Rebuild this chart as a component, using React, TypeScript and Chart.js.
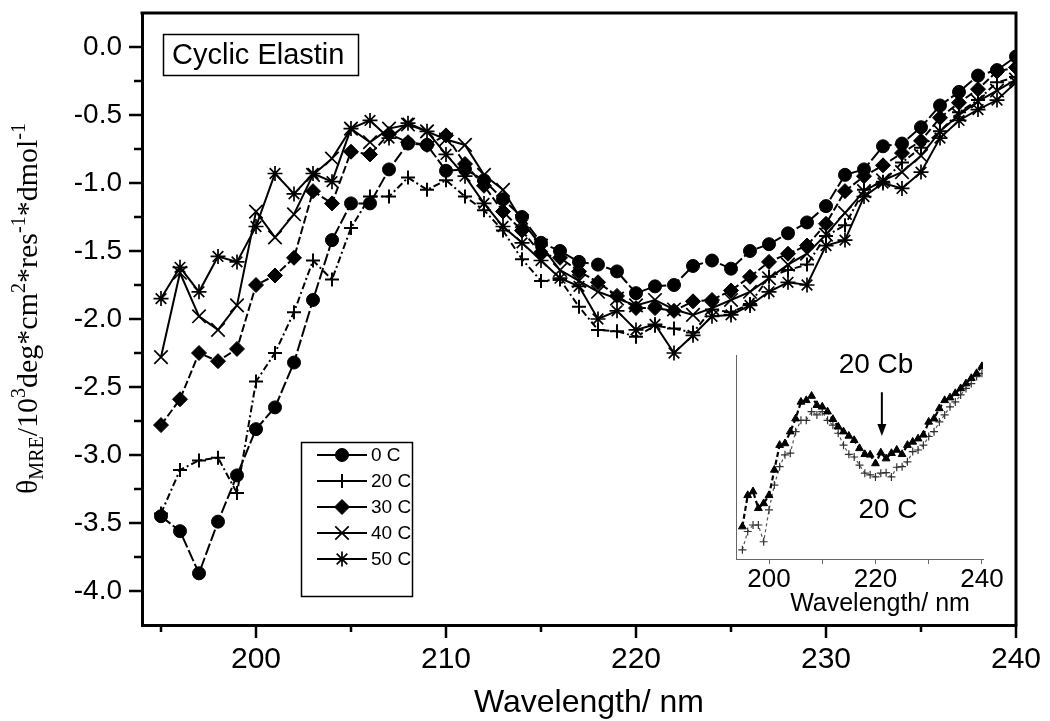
import React, { useEffect, useRef } from 'react';
import { Chart, registerables } from 'chart.js';
import { drawPoint } from 'chart.js/helpers';

Chart.register(...registerables);

// ---------- data ----------
const WAVELENGTH = [195, 196, 197, 198, 199, 200, 201, 202, 203, 204, 205, 206, 207, 208, 209, 210, 211, 212, 213, 214, 215, 216, 217, 218, 219, 220, 221, 222, 223, 224, 225, 226, 227, 228, 229, 230, 231, 232, 233, 234, 235, 236, 237, 238, 239, 240];

const CD_0C = [-3.45, -3.56, -3.87, -3.49, -3.15, -2.81, -2.65, -2.32, -1.86, -1.42, -1.15, -1.15, -0.90, -0.71, -0.72, -0.91, -0.90, -0.98, -1.12, -1.25, -1.44, -1.50, -1.58, -1.60, -1.65, -1.81, -1.76, -1.75, -1.61, -1.57, -1.63, -1.50, -1.45, -1.37, -1.29, -1.17, -0.94, -0.90, -0.73, -0.71, -0.59, -0.43, -0.33, -0.21, -0.17, -0.07];
const CD_20C = [-3.43, -3.11, -3.04, -3.02, -3.28, -2.46, -2.25, -1.95, -1.57, -1.71, -1.33, -1.10, -1.10, -0.96, -1.05, -0.98, -1.10, -1.20, -1.35, -1.56, -1.72, -1.71, -1.91, -2.08, -2.09, -2.13, -2.05, -2.07, -2.10, -1.93, -1.95, -1.89, -1.69, -1.64, -1.60, -1.39, -1.31, -1.05, -0.99, -0.85, -0.74, -0.62, -0.48, -0.39, -0.26, -0.22];
const CD_30C = [-2.78, -2.59, -2.25, -2.31, -2.22, -1.75, -1.68, -1.55, -1.06, -1.15, -0.77, -0.79, -0.64, -0.70, -0.72, -0.65, -0.86, -1.02, -1.21, -1.35, -1.52, -1.55, -1.65, -1.73, -1.83, -1.92, -1.92, -1.94, -1.87, -1.86, -1.79, -1.69, -1.58, -1.52, -1.46, -1.30, -1.06, -0.95, -0.87, -0.78, -0.69, -0.52, -0.41, -0.31, -0.18, -0.15];
const CD_40C = [-2.28, -1.66, -1.98, -2.08, -1.90, -1.21, -1.40, -1.23, -0.94, -0.82, -0.60, -0.70, -0.60, -0.57, -0.62, -0.68, -0.72, -0.94, -1.05, -1.28, -1.46, -1.64, -1.72, -1.80, -1.85, -1.90, -1.86, -1.93, -1.97, -1.92, -1.86, -1.80, -1.70, -1.60, -1.52, -1.38, -1.22, -1.06, -0.98, -0.92, -0.80, -0.62, -0.50, -0.40, -0.32, -0.24];
const CD_50C = [-1.85, -1.62, -1.80, -1.54, -1.58, -1.32, -0.93, -1.08, -0.93, -0.99, -0.60, -0.54, -0.67, -0.56, -0.62, -0.79, -0.95, -1.15, -1.32, -1.44, -1.57, -1.70, -1.76, -2.00, -1.94, -2.08, -2.04, -2.25, -2.12, -1.98, -1.97, -1.90, -1.80, -1.73, -1.75, -1.46, -1.42, -1.10, -1.00, -1.04, -0.92, -0.67, -0.54, -0.46, -0.39, -0.26];

const SERIES_LABELS = ['0 C', '20 C', '30 C', '40 C', '50 C'];

const INSET_20CB = [-3.04, -2.46, -2.39, -2.70, -2.61, -2.46, -1.99, -1.53, -1.50, -1.28, -1.04, -0.73, -0.70, -0.62, -0.79, -0.82, -0.91, -1.05, -1.19, -1.28, -1.36, -1.44, -1.59, -1.70, -1.71, -1.87, -1.67, -1.78, -1.68, -1.62, -1.70, -1.53, -1.47, -1.41, -1.34, -1.10, -1.04, -0.85, -0.70, -0.65, -0.57, -0.48, -0.39, -0.29, -0.20, -0.07];
const INSET_20C = [-3.47, -3.13, -3.01, -3.01, -3.32, -2.73, -2.27, -1.93, -1.71, -1.68, -1.28, -1.07, -1.07, -0.91, -0.97, -0.91, -1.07, -1.16, -1.31, -1.53, -1.70, -1.75, -1.90, -2.05, -2.08, -2.12, -2.05, -2.04, -2.12, -1.94, -1.93, -1.84, -1.65, -1.62, -1.53, -1.37, -1.28, -1.10, -0.97, -0.82, -0.73, -0.60, -0.48, -0.39, -0.26, -0.20];

const X_TICKS = [200, 210, 220, 230, 240];
const X_MINOR = [195, 205, 215, 225, 235];
const Y_TICKS = [0, -0.5, -1.0, -1.5, -2.0, -2.5, -3.0, -3.5, -4.0];
const Y_MINOR = [-0.25, -0.75, -1.25, -1.75, -2.25, -2.75, -3.25, -3.75];
const INSET_X_TICKS = [200, 210, 220, 230, 240];
const INSET_X_LABELS = [200, 220, 240];

const TITLE_TEXT = 'Cyclic Elastin';
const X_TITLE = 'Wavelength/ nm';
const Y_TITLE_PARTS = [
  { t: 'θ', sub: 0 },
  { t: 'MRE', sub: 1 },
  { t: '/10', sub: 0 },
  { t: '3', sub: -1 },
  { t: 'deg*cm', sub: 0 },
  { t: '2', sub: -1 },
  { t: '*res', sub: 0 },
  { t: '-1', sub: -1 },
  { t: '*dmol', sub: 0 },
  { t: '-1', sub: -1 },
];

// ---------- styles ----------
const SANS = '"Liberation Sans", Arial, sans-serif';
const SERIF = '"Liberation Serif", "Times New Roman", serif';

const STYLES = [
  { pointStyle: 'circle', radius: 6.5, borderWidth: 1, dash: [12, 3] },
  { pointStyle: 'cross', radius: 7, borderWidth: 2, dash: [7, 3, 2, 3] },
  { pointStyle: 'rectRot', radius: 7.5, borderWidth: 1, dash: [8, 3] },
  { pointStyle: 'crossRot', radius: 9.5, borderWidth: 1.7, dash: [] },
  { pointStyle: 'star', radius: 7.5, borderWidth: 1.7, dash: [] },
];

const zeroPad = (s: any) => {
  s.paddingTop = 0;
  s.paddingBottom = 0;
  s.paddingLeft = 0;
  s.paddingRight = 0;
};

const mainDecor = {
  id: 'mainDecor',
  afterDraw(chart: any) {
    const { ctx, chartArea: a, scales } = chart;
    const xs = scales.x;
    const ys = scales.y;
    ctx.save();
    ctx.strokeStyle = '#000';
    ctx.fillStyle = '#000';
    ctx.setLineDash([]);
    // top and right frame
    ctx.lineWidth = 3;
    ctx.beginPath();
    ctx.moveTo(a.left - 1.5, a.top);
    ctx.lineTo(a.right, a.top);
    ctx.lineTo(a.right, a.bottom + 1.5);
    ctx.stroke();
    // ticks
    ctx.lineWidth = 2.5;
    ctx.beginPath();
    Y_TICKS.forEach((v) => {
      const y = ys.getPixelForValue(v);
      ctx.moveTo(a.left, y);
      ctx.lineTo(a.left - 13, y);
    });
    Y_MINOR.forEach((v) => {
      const y = ys.getPixelForValue(v);
      ctx.moveTo(a.left, y);
      ctx.lineTo(a.left - 8, y);
    });
    X_TICKS.forEach((v) => {
      const x = xs.getPixelForValue(v);
      ctx.moveTo(x, a.bottom);
      ctx.lineTo(x, a.bottom + 13);
    });
    X_MINOR.forEach((v) => {
      const x = xs.getPixelForValue(v);
      ctx.moveTo(x, a.bottom);
      ctx.lineTo(x, a.bottom + 7);
    });
    ctx.stroke();

    // x title
    ctx.font = `32px ${SANS}`;
    ctx.textAlign = 'center';
    ctx.textBaseline = 'alphabetic';
    ctx.fillText(X_TITLE, 589, 712);

    // y title (rotated, with sub/superscripts)
    ctx.save();
    ctx.translate(37, 494);
    ctx.rotate(-Math.PI / 2);
    ctx.textAlign = 'left';
    let pos = 0;
    Y_TITLE_PARTS.forEach((p) => {
      const size = p.sub === 0 ? 30 : 20;
      ctx.font = `${size}px ${SERIF}`;
      const dy = p.sub === 1 ? 6 : p.sub === -1 ? -12 : 0;
      ctx.fillText(p.t, pos, dy);
      pos += ctx.measureText(p.t).width;
    });
    ctx.restore();

    // title box
    ctx.lineWidth = 1.5;
    ctx.strokeRect(163.5, 34.5, 195, 41);
    ctx.font = `29px ${SANS}`;
    ctx.textAlign = 'left';
    ctx.textBaseline = 'middle';
    ctx.fillText(TITLE_TEXT, 172, 56);

    // legend
    ctx.lineWidth = 1.5;
    ctx.strokeRect(301.5, 442.5, 111, 154);
    ctx.font = `19px ${SANS}`;
    chart.data.datasets.forEach((ds: any, i: number) => {
      const st = STYLES[i];
      const y = 455 + i * 26;
      ctx.lineWidth = 2;
      ctx.setLineDash([]);
      ctx.beginPath();
      ctx.moveTo(317, y);
      ctx.lineTo(367, y);
      ctx.stroke();
      ctx.lineWidth = st.borderWidth;
      drawPoint(ctx, { pointStyle: st.pointStyle, radius: st.radius, borderWidth: st.borderWidth, rotation: 0 } as any, 342, y);
      ctx.fillText(ds.label, 371, y + 1);
    });
    ctx.restore();
  },
};

const insetDecor = {
  id: 'insetDecor',
  afterDraw(chart: any) {
    const { ctx, scales } = chart;
    const xs = scales.x;
    const ys = scales.y;
    ctx.save();
    ctx.fillStyle = '#000';
    ctx.strokeStyle = '#000';
    ctx.setLineDash([]);
    // arrow
    const ax = xs.getPixelForValue(221.2);
    const y1 = ys.getPixelForValue(-0.55);
    const y2 = ys.getPixelForValue(-1.36);
    ctx.lineWidth = 2;
    ctx.beginPath();
    ctx.moveTo(ax, y1);
    ctx.lineTo(ax, y2 - 10);
    ctx.stroke();
    ctx.beginPath();
    ctx.moveTo(ax - 4.5, y2 - 12);
    ctx.lineTo(ax + 4.5, y2 - 12);
    ctx.lineTo(ax, y2);
    ctx.closePath();
    ctx.fill();
    // labels
    ctx.font = `28px ${SANS}`;
    ctx.textAlign = 'center';
    ctx.textBaseline = 'middle';
    ctx.fillText('20 Cb', xs.getPixelForValue(220.1), ys.getPixelForValue(-0.05));
    ctx.fillText('20 C', xs.getPixelForValue(222.35), ys.getPixelForValue(-2.73));
    // title
    ctx.font = `25px ${SANS}`;
    ctx.textBaseline = 'alphabetic';
    ctx.fillText(X_TITLE, 160, 266);
    ctx.restore();
  },
};

function MainChart() {
  const ref = useRef<HTMLCanvasElement | null>(null);
  useEffect(() => {
    if (!ref.current) return;
    const seriesValues = [CD_0C, CD_20C, CD_30C, CD_40C, CD_50C];
    const datasets = seriesValues.map((vals, i) => ({
      label: SERIES_LABELS[i],
      data: WAVELENGTH.map((x, j) => ({ x, y: vals[j] })),
      borderColor: '#000',
      backgroundColor: '#000',
      borderWidth: 2,
      borderDash: STYLES[i].dash,
      pointStyle: STYLES[i].pointStyle,
      pointRadius: STYLES[i].radius,
      pointBorderWidth: STYLES[i].borderWidth,
      pointBackgroundColor: '#000',
      pointBorderColor: '#000',
      tension: 0,
      fill: false,
    }));
    const chart = new Chart(ref.current, {
      type: 'line',
      data: { datasets },
      options: {
        responsive: false,
        animation: false,
        devicePixelRatio: 1,
        layout: { padding: { top: 13, right: 34, left: 0, bottom: 0 } },
        plugins: { legend: { display: false }, tooltip: { enabled: false } },
        scales: {
          x: {
            type: 'linear',
            min: 194,
            max: 240,
            position: 'bottom',
            afterFit: (s: any) => { s.height = 96; zeroPad(s); },
            afterBuildTicks: (s: any) => { s.ticks = X_TICKS.map((value) => ({ value })); },
            grid: { display: false, drawTicks: false },
            border: { display: true, width: 3, color: '#000' },
            ticks: {
              autoSkip: false,
              maxRotation: 0,
              minRotation: 0,
              padding: 17,
              color: '#000',
              font: { family: SANS, size: 30 },
              callback: (v: any) => String(v),
            },
          },
          y: {
            type: 'linear',
            min: -4.25,
            max: 0.25,
            afterFit: (s: any) => { s.width = 142; zeroPad(s); },
            afterBuildTicks: (s: any) => { s.ticks = Y_TICKS.map((value) => ({ value })); },
            grid: { display: false, drawTicks: false },
            border: { display: true, width: 3, color: '#000' },
            ticks: {
              autoSkip: false,
              padding: 20,
              color: '#000',
              font: { family: SANS, size: 28 },
              callback: (v: any) => Number(v).toFixed(1),
            },
          },
        },
      },
      plugins: [mainDecor],
    } as any);
    return () => chart.destroy();
  }, []);
  return <canvas ref={ref} width={1050} height={721} style={{ position: 'absolute', left: 0, top: 0 }} />;
}

function InsetChart() {
  const ref = useRef<HTMLCanvasElement | null>(null);
  useEffect(() => {
    if (!ref.current) return;
    const chart = new Chart(ref.current, {
      type: 'line',
      data: {
        datasets: [
          {
            label: '20 Cb',
            data: WAVELENGTH.map((x, j) => ({ x, y: INSET_20CB[j] })),
            borderColor: '#000',
            backgroundColor: '#000',
            borderWidth: 2.2,
            borderDash: [5, 3],
            pointStyle: 'triangle',
            pointRadius: 4.5,
            pointBorderWidth: 1,
            pointBackgroundColor: '#000',
            pointBorderColor: '#000',
          },
          {
            label: '20 C',
            data: WAVELENGTH.map((x, j) => ({ x, y: INSET_20C[j] })),
            borderColor: '#555',
            backgroundColor: '#555',
            borderWidth: 1.2,
            borderDash: [3, 3],
            pointStyle: 'cross',
            pointRadius: 4,
            pointBorderWidth: 1.2,
            pointBackgroundColor: '#333',
            pointBorderColor: '#333',
          },
        ],
      },
      options: {
        responsive: false,
        animation: false,
        devicePixelRatio: 1,
        layout: { padding: { top: 10, right: 27, left: 0, bottom: 0 } },
        plugins: { legend: { display: false }, tooltip: { enabled: false } },
        scales: {
          x: {
            type: 'linear',
            min: 193.8,
            max: 240.2,
            afterFit: (s: any) => { s.height = 61; zeroPad(s); },
            afterBuildTicks: (s: any) => { s.ticks = INSET_X_TICKS.map((value) => ({ value })); },
            grid: { display: true, drawOnChartArea: false, drawTicks: true, tickLength: 5, color: '#666', lineWidth: 1 },
            border: { display: true, width: 1, color: '#666' },
            ticks: {
              autoSkip: false,
              maxRotation: 0,
              minRotation: 0,
              padding: 0,
              color: '#000',
              font: { family: SANS, size: 26 },
              callback: (v: any) => (INSET_X_LABELS.includes(Number(v)) ? String(v) : ''),
            },
          },
          y: {
            type: 'linear',
            min: -3.64,
            max: 0.14,
            afterFit: (s: any) => { s.width = 16; zeroPad(s); },
            grid: { display: false, drawTicks: false },
            border: { display: true, width: 1, color: '#666' },
            ticks: { display: false },
          },
        },
      },
      plugins: [insetDecor],
    } as any);
    return () => chart.destroy();
  }, []);
  return <canvas ref={ref} width={290} height={275} style={{ position: 'absolute', left: 720, top: 345 }} />;
}

export default function App() {
  return (
    <div style={{ position: 'fixed', left: 0, top: 0, width: 1050, height: 721, background: '#fff', overflow: 'hidden' }}>
      <MainChart />
      <InsetChart />
    </div>
  );
}
